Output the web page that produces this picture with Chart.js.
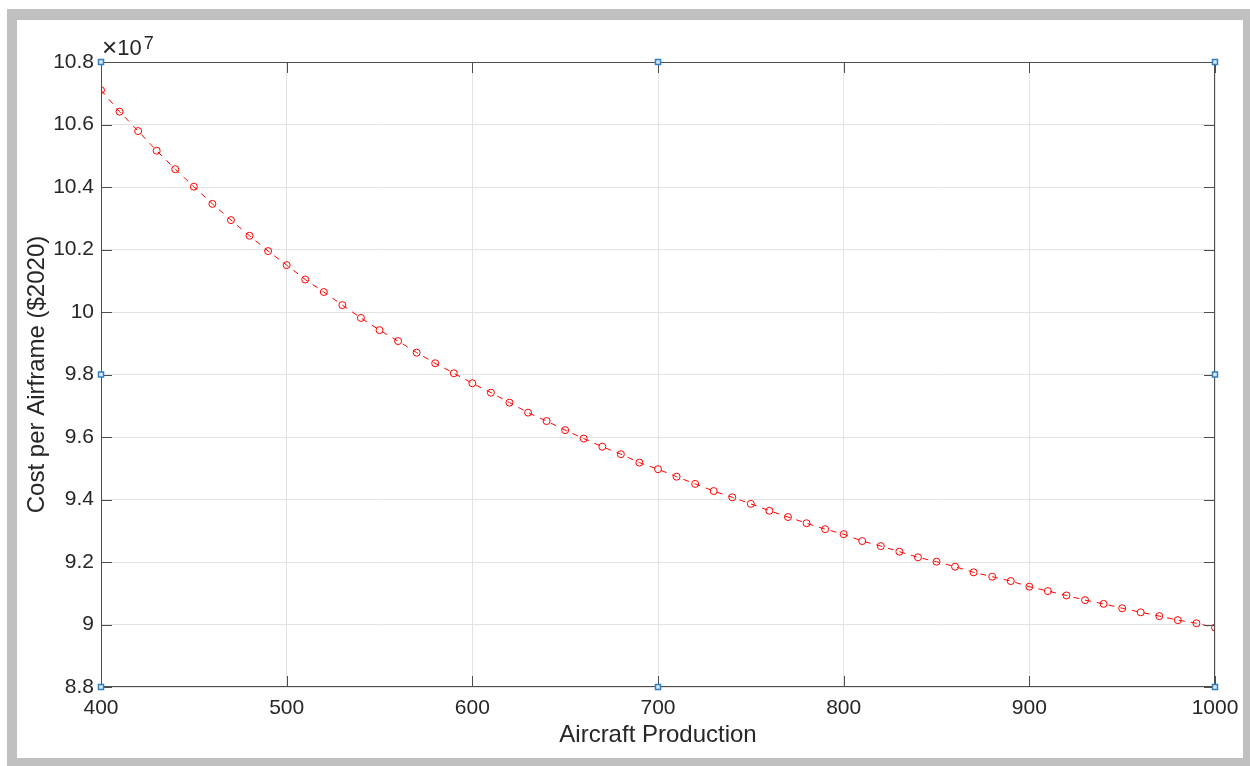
<!DOCTYPE html>
<html>
<head>
<meta charset="utf-8">
<script src="https://cdn.jsdelivr.net/npm/chart.js@4/dist/chart.umd.min.js"></script>
<style>
  body { margin: 0; background: #ffffff; }
  #frame { position: absolute; left: 7px; top: 9px; right: 0; bottom: 0; background: #c0c0c0; }
  #paper { position: absolute; left: 17px; top: 20px; width: 1226px; height: 738px; background: #ffffff; }
  #plot { position: absolute; left: 0; top: 0; }
</style>
</head>
<body>
<div id="frame"></div>
<div id="paper"></div>
<canvas id="plot" width="1250" height="766"></canvas>
<script>
// aircraft production quantity (x) and cost per airframe in units of 1e7 $2020 (y)
const production = [400, 410, 420, 430, 440, 450, 460, 470, 480, 490,
  500, 510, 520, 530, 540, 550, 560, 570, 580, 590,
  600, 610, 620, 630, 640, 650, 660, 670, 680, 690,
  700, 710, 720, 730, 740, 750, 760, 770, 780, 790,
  800, 810, 820, 830, 840, 850, 860, 870, 880, 890,
  900, 910, 920, 930, 940, 950, 960, 970, 980, 990, 1000];
const costPerAirframe = [10.710, 10.641, 10.579, 10.516, 10.457, 10.401, 10.346, 10.294, 10.244, 10.195,
  10.150, 10.104, 10.064, 10.022, 9.981, 9.942, 9.907, 9.870, 9.836, 9.804,
  9.772, 9.742, 9.710, 9.678, 9.651, 9.622, 9.595, 9.569, 9.545, 9.518,
  9.497, 9.473, 9.450, 9.427, 9.407, 9.386, 9.364, 9.344, 9.324, 9.305,
  9.289, 9.267, 9.251, 9.233, 9.215, 9.201, 9.185, 9.167, 9.153, 9.139,
  9.121, 9.107, 9.093, 9.078, 9.066, 9.052, 9.039, 9.027, 9.014, 9.004, 8.990];
const yExponent = 7;

// tick labels
const xTicks = [400, 500, 600, 700, 800, 900, 1000];
const yTicks = [8.8, 9, 9.2, 9.4, 9.6, 9.8, 10, 10.2, 10.4, 10.6, 10.8];

const FONT = '"Liberation Sans", Arial, Helvetica, sans-serif';
const TEXT = '#262626';
const AXIS = '#4d4d4d';
const GRID = '#e3e3e3';

// matlab-ish box: inward ticks on all four sides, exponent label, blue selection handles
const matlabBox = {
  id: 'matlabBox',
  afterDraw(chart) {
    const { ctx, chartArea: a, scales: { x, y } } = chart;
    const tl = 11;
    ctx.save();
    ctx.strokeStyle = AXIS;
    ctx.lineWidth = 1;
    ctx.strokeRect(a.left + 0.5, a.top + 0.5, a.right - a.left - 1, a.bottom - a.top - 1);
    ctx.beginPath();
    xTicks.forEach(v => {
      const px = Math.round(x.getPixelForValue(v)) + 0.5;
      ctx.moveTo(px, a.bottom); ctx.lineTo(px, a.bottom - tl);
      ctx.moveTo(px, a.top); ctx.lineTo(px, a.top + tl);
    });
    yTicks.forEach(v => {
      const py = Math.round(y.getPixelForValue(v)) + 0.5;
      ctx.moveTo(a.left, py); ctx.lineTo(a.left + tl, py);
      ctx.moveTo(a.right, py); ctx.lineTo(a.right - tl, py);
    });
    ctx.stroke();

    // x10^7
    ctx.fillStyle = TEXT;
    ctx.textBaseline = 'alphabetic';
    ctx.textAlign = 'left';
    ctx.font = '26px ' + FONT;
    ctx.fillText('\u00d7', a.left + 1, a.top - 6);
    const wx = ctx.measureText('\u00d7').width;
    ctx.font = '22px ' + FONT;
    ctx.fillText('10', a.left + 1 + wx, a.top - 7);
    const w = wx + ctx.measureText('10').width;
    ctx.font = '18px ' + FONT;
    ctx.fillText(String(yExponent), a.left + 3 + w, a.top - 13);

    // selection handles
    const xs = [a.left, (a.left + a.right) / 2, a.right];
    const ys = [a.top, (a.top + a.bottom) / 2, a.bottom];
    ctx.lineWidth = 1.5;
    ctx.strokeStyle = '#2f7fc1';
    ctx.fillStyle = '#dbe9f6';
    xs.forEach((hx, i) => ys.forEach((hy, j) => {
      if (i === 1 && j === 1) return;
      ctx.fillRect(hx - 2.5, hy - 2.5, 5, 5);
      ctx.strokeRect(hx - 2.5, hy - 2.5, 5, 5);
    }));
    ctx.restore();
  }
};

new Chart(document.getElementById('plot'), {
  type: 'line',
  data: {
    datasets: [{
      data: production.map((p, i) => ({ x: p, y: costPerAirframe[i] })),
      borderColor: '#ff0000',
      borderWidth: 1,
      borderDash: [6, 6],
      pointStyle: 'circle',
      pointRadius: 3.5,
      pointBorderWidth: 1,
      pointBorderColor: '#ff0000',
      pointBackgroundColor: 'rgba(0,0,0,0)',
      tension: 0
    }]
  },
  plugins: [matlabBox],
  options: {
    responsive: false,
    animation: false,
    layout: { padding: { top: 62, right: 35, left: 0, bottom: 0 } },
    plugins: { legend: { display: false }, tooltip: { enabled: false } },
    scales: {
      x: {
        type: 'linear',
        min: 400, max: 1000,
        afterFit: s => { s.height = 79; },
        afterBuildTicks: s => { s.ticks = xTicks.map(v => ({ value: v })); },
        grid: { color: GRID, drawTicks: false },
        border: { display: false },
        ticks: { color: TEXT, font: { family: FONT, size: 21 }, padding: 9, maxRotation: 0,
          callback: v => String(v) },
        title: { display: true, text: 'Aircraft Production', color: TEXT,
          font: { family: FONT, size: 24 }, padding: { top: 0, bottom: 16 } }
      },
      y: {
        type: 'linear',
        min: 8.8, max: 10.8,
        afterFit: s => { s.width = 101; },
        afterBuildTicks: s => { s.ticks = yTicks.map(v => ({ value: v })); },
        grid: { color: GRID, drawTicks: false },
        border: { display: false },
        ticks: { color: TEXT, font: { family: FONT, size: 21 }, padding: 7,
          callback: v => String(Number(v.toFixed(1))) },
        title: { display: true, text: 'Cost per Airframe ($2020)', color: TEXT,
          font: { family: FONT, size: 24 }, padding: { top: 23, bottom: 0 } }
      }
    }
  }
});
</script>
</body>
</html>
